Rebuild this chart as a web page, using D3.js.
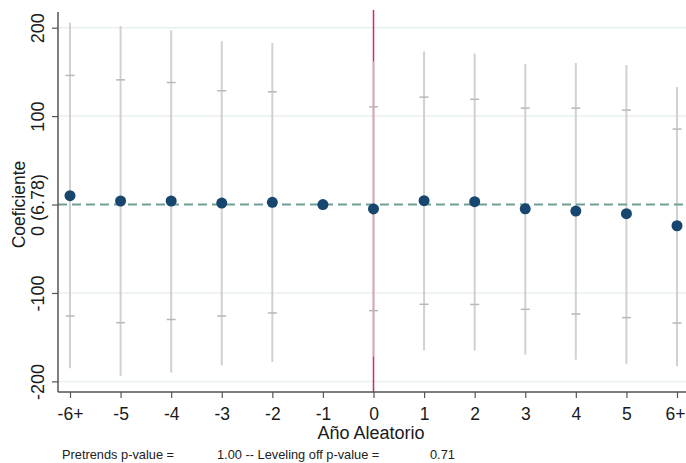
<!DOCTYPE html>
<html>
<head>
<meta charset="utf-8">
<script src="https://cdnjs.cloudflare.com/ajax/libs/d3/7.8.5/d3.min.js"></script>
<style>
  body { margin: 0; background: #fff; }
  svg { display: block; font-family: "Liberation Sans", Arial, sans-serif; }
</style>
</head>
<body>
<script>
// event-time categories
var years = ['-6+', '-5', '-4', '-3', '-2', '-1', '0', '1', '2', '3', '4', '5', '6+'];
// point estimates
var coef = [10, 4, 4, 1.7, 2.5, 0, -5, 4.3, 3.2, -4.8, -7.4, -10.4, -24];
// outer interval (whisker ends), -1 is the reference year
var ciLow = [-185, -194, -190, -182, -178, null, -172, -165, -165, -169.5, -175.5, -180, -183];
var ciHigh = [206, 202, 197, 184.6, 182.8, null, 162, 173, 170.6, 159, 160, 157.8, 133];
// inner interval (small caps)
var capLow = [-126, -133.6, -130, -126, -122.6, null, -120, -112.8, -113, -118.5, -123.8, -127.9, -134];
var capHigh = [146, 141, 138, 128.7, 127.5, null, 110.5, 121.5, 119, 109, 109, 106.8, 85.3];
var yTicks = [-200, -100, 0, 100, 200];
var yTickText = { '-200': '-200', '-100': '-100', '0': '0 (6.78)', '100': '100', '200': '200' };

var width = 686, height = 463,
    plot = { left: 58, right: 690, top: 10, bottom: 392 };

var svg = d3.select('body').append('svg')
    .attr('width', width)
    .attr('height', height);

var xScale = d3.scalePoint()
    .domain(years)
    .range([70, 677]);

var yScale = d3.scaleLinear()
    .domain([-212, 220])
    .range([plot.bottom, plot.top]);

var data = years.map(function(y, i) {
    return { year: y, b: coef[i], lo: ciLow[i], hi: ciHigh[i], clo: capLow[i], chi: capHigh[i] };
});
var withCI = data.filter(function(d) { return d.lo !== null; });

// gridlines
svg.append('g')
    .selectAll('line')
    .data(yTicks.filter(function(t) { return t !== 0; }))
    .enter().append('line')
    .attr('x1', plot.left).attr('x2', plot.right)
    .attr('y1', function(d) { return yScale(d); })
    .attr('y2', function(d) { return yScale(d); })
    .style('stroke', '#e8f1ee')
    .style('stroke-width', 1.5);

// treatment year marker
svg.append('line')
    .attr('x1', xScale('0')).attr('x2', xScale('0'))
    .attr('y1', plot.top).attr('y2', plot.bottom)
    .style('stroke', '#d42a58')
    .style('stroke-width', 1.5);

// confidence intervals
svg.append('g')
    .selectAll('line')
    .data(withCI)
    .enter().append('line')
    .attr('x1', function(d) { return xScale(d.year); })
    .attr('x2', function(d) { return xScale(d.year); })
    .attr('y1', function(d) { return yScale(d.lo); })
    .attr('y2', function(d) { return yScale(d.hi); })
    .style('stroke', '#c9c9c9')
    .style('stroke-opacity', 0.85)
    .style('stroke-width', 2);

var caps = svg.append('g');
['clo', 'chi'].forEach(function(k) {
    caps.selectAll('line.' + k)
        .data(withCI)
        .enter().append('line')
        .attr('class', k)
        .attr('x1', function(d) { return xScale(d.year) - 4.5; })
        .attr('x2', function(d) { return xScale(d.year) + 4.5; })
        .attr('y1', function(d) { return yScale(d[k]); })
        .attr('y2', function(d) { return yScale(d[k]); })
        .style('stroke', '#b8b8b8')
        .style('stroke-width', 1.5);
});

// zero reference
svg.append('line')
    .attr('x1', plot.left).attr('x2', plot.right)
    .attr('y1', yScale(0)).attr('y2', yScale(0))
    .style('stroke', '#6f9f95')
    .style('stroke-width', 2)
    .style('stroke-dasharray', '9,5');

// estimates
svg.append('g')
    .selectAll('circle')
    .data(data)
    .enter().append('circle')
    .attr('cx', function(d) { return xScale(d.year); })
    .attr('cy', function(d) { return yScale(d.b); })
    .attr('r', 5.5)
    .style('fill', '#17466f');

// axes
var xAxis = d3.axisBottom(xScale).tickSizeOuter(0).tickSize(6).tickPadding(10);
var yAxis = d3.axisLeft(yScale).tickValues(yTicks).tickSizeOuter(0).tickSize(6)
    .tickFormat(function(d) { return yTickText[d]; });

var xg = svg.append('g')
    .attr('transform', 'translate(0,' + plot.bottom + ')')
    .call(xAxis);
xg.select('.domain').attr('d', 'M' + plot.left + ',0H' + plot.right);

var yg = svg.append('g')
    .attr('transform', 'translate(' + plot.left + ',0)')
    .call(yAxis);
yg.select('.domain').attr('d', 'M0,' + (plot.top + 2) + 'V' + plot.bottom);

[xg, yg].forEach(function(g) {
    g.select('.domain').style('stroke', '#555').style('stroke-width', 1.5);
    g.selectAll('.tick line').style('stroke', '#555').style('stroke-width', 1.2);
    g.selectAll('.tick text')
        .style('font-size', '18px')
        .style('fill', '#1a1a1a')
        .style('font-family', '"Liberation Sans", Arial, sans-serif');
});

xg.selectAll('.tick text').attr('dy', null).attr('y', 28).style('font-size', '17.5px');
// keep the last label inside the right edge
xg.selectAll('.tick text').filter(function(d) { return d === '6+'; })
    .style('text-anchor', 'end').attr('dx', 8);

yg.selectAll('.tick text')
    .attr('x', null).attr('dy', null)
    .attr('transform', 'translate(-14,0) rotate(-90)')
    .style('text-anchor', 'middle');

// axis titles
svg.append('text')
    .attr('transform', 'translate(25,' + yScale(0) + ') rotate(-90)')
    .style('text-anchor', 'middle')
    .style('font-size', '17.5px')
    .style('fill', '#1a1a1a')
    .text('Coeficiente');

svg.append('text')
    .attr('x', 371).attr('y', 439)
    .style('text-anchor', 'middle')
    .style('font-size', '18px')
    .style('fill', '#1a1a1a')
    .text('Año Aleatorio');

// footnote
var note = svg.append('g').style('font-size', '12.8px').style('fill', '#222');
note.append('text').attr('x', 62).attr('y', 459).text('Pretrends p-value =');
note.append('text').attr('x', 217).attr('y', 459).text('1.00 -- Leveling off p-value =');
note.append('text').attr('x', 430).attr('y', 459).text('0.71');
</script>
</body>
</html>
